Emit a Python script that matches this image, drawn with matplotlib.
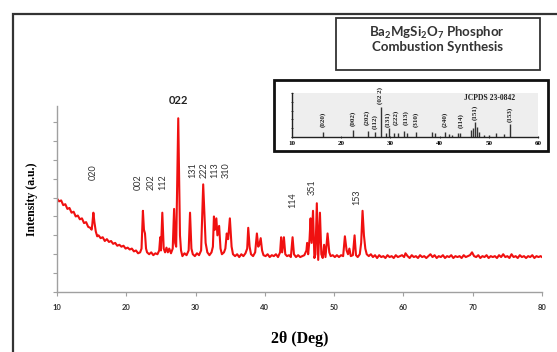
import matplotlib
matplotlib.use('Agg')
import matplotlib.pyplot as plt
from matplotlib.patches import Rectangle

plt.rcParams['mathtext.fontset'] = 'custom'
plt.rcParams['mathtext.rm'] = 'Lato:bold'
plt.rcParams['mathtext.it'] = 'Lato:bold'
plt.rcParams['mathtext.bf'] = 'Lato:bold'

# XRD trace (2theta in deg, intensity in arbitrary units)
two_theta = [
    10.0, 10.3, 10.6, 10.9, 11.2, 11.5, 11.8, 12.1, 12.4, 12.7, 13.0, 13.3, 13.6, 13.9,
    14.2, 14.5, 14.8, 15.0, 15.1, 15.25, 15.4, 15.6, 15.8, 16.0, 16.3, 16.6, 16.9, 17.2,
    17.5, 17.8, 18.1, 18.4, 18.7, 19.0, 19.3, 19.6, 19.9, 20.2, 20.5, 20.8, 21.1, 21.4,
    21.7, 22.0, 22.2, 22.4, 22.55, 22.7, 22.85, 23.0, 23.3, 23.6, 23.9, 24.2, 24.5, 24.75,
    24.9, 25.0, 25.2, 25.4, 25.6, 25.8, 26.0, 26.2, 26.45, 26.7, 26.9, 27.05, 27.2, 27.5,
    27.75, 27.9, 28.1, 28.4, 28.7, 29.0, 29.2, 29.4, 29.6, 29.9, 30.2, 30.5, 30.8, 31.1,
    31.3, 31.45, 31.7, 32.0, 32.3, 32.5, 32.65, 32.8, 33.0, 33.15, 33.4, 33.6, 33.8, 34.1,
    34.3, 34.5, 34.7, 34.95, 35.2, 35.4, 35.7, 36.0, 36.3, 36.6, 36.9, 37.2, 37.45, 37.6,
    37.8, 38.0, 38.3, 38.6, 38.85, 39.05, 39.2, 39.4, 39.6, 39.8, 40.1, 40.4, 40.7, 41.0,
    41.3, 41.6, 41.9, 42.2, 42.35, 42.5, 42.75, 42.95, 43.2, 43.5, 43.75, 44.0, 44.2, 44.5,
    44.8, 45.1, 45.4, 45.7, 46.0, 46.1, 46.25, 46.45, 46.6, 46.75, 46.95, 47.15, 47.3, 47.5,
    47.7, 47.95, 48.15, 48.35, 48.55, 48.75, 49.05, 49.3, 49.5, 49.8, 50.1, 50.4, 50.7, 51.0,
    51.3, 51.55, 51.8, 52.0, 52.2, 52.4, 52.7, 52.95, 53.15, 53.4, 53.7, 53.9, 54.1, 54.3,
    54.5, 54.7, 55.0, 55.3, 55.6, 55.9, 56.2, 56.5, 56.8, 57.1, 57.4, 57.7, 58.0, 58.3,
    58.6, 58.9, 59.2, 59.5, 59.8, 60.1, 60.3, 60.6, 60.9, 61.2, 61.5, 61.8, 62.1, 62.4,
    62.7, 63.0, 63.3, 63.6, 63.9, 64.2, 64.5, 64.8, 65.1, 65.4, 65.7, 66.0, 66.3, 66.6,
    66.9, 67.2, 67.5, 67.8, 68.1, 68.4, 68.7, 69.0, 69.3, 69.6, 69.9, 70.2, 70.5, 70.8,
    71.1, 71.4, 71.7, 72.0, 72.3, 72.6, 72.9, 73.2, 73.5, 73.8, 74.1, 74.4, 74.7, 75.0,
    75.3, 75.6, 75.9, 76.2, 76.5, 76.8, 77.1, 77.4, 77.7, 78.0, 78.3, 78.6, 78.9, 79.2,
    79.5, 79.8, 80.0,
]
intensity = [
    4.95, 4.8, 4.85, 4.6, 4.65, 4.4, 4.45, 4.2, 4.25, 4.0, 4.05, 3.85, 3.9, 3.65,
    3.7, 3.45, 3.4, 3.3, 3.6, 4.2, 3.7, 3.2, 2.95, 3.0, 2.85, 2.9, 2.7, 2.8,
    2.65, 2.7, 2.55, 2.6, 2.45, 2.5, 2.4, 2.45, 2.3, 2.35, 2.25, 2.3, 2.15, 2.2,
    2.05, 2.1, 2.3, 4.3, 3.3, 3.1, 2.3, 2.1, 2.0, 2.1, 1.95, 2.05, 2.0, 2.2,
    2.9, 2.2, 4.2, 2.3, 2.1, 2.35, 2.1, 2.3, 2.05, 2.3, 4.4, 2.6, 2.4, 9.2,
    3.0, 2.2, 1.9, 2.05, 1.95, 2.2, 4.2, 2.3, 2.0, 1.9, 2.05, 1.95, 2.2, 5.7,
    4.0, 2.6, 2.1, 1.95, 2.1, 2.4, 4.0, 3.3, 3.9, 3.0, 3.5, 2.3, 2.0, 2.1,
    2.3, 3.1, 2.8, 3.9, 2.4, 2.0, 1.9, 2.0, 1.85, 2.0, 1.9, 2.05, 2.3, 3.4,
    2.4, 2.0, 1.9, 2.1, 3.1, 2.4, 2.5, 2.85, 2.2, 1.95, 1.9, 2.0, 1.85, 1.95,
    1.9, 2.0, 1.85, 2.1, 2.9, 2.1, 2.9, 2.0, 1.9, 1.95, 1.85, 2.9, 2.0, 1.85,
    1.95, 1.85, 1.9, 1.95, 2.2, 2.6, 2.0, 2.8, 3.9, 2.6, 4.3, 1.8, 2.0, 4.7,
    1.7, 4.2, 2.0, 1.8, 2.5, 1.85, 3.1, 2.1, 1.9, 1.95, 1.85, 1.95, 1.85, 1.95,
    1.9, 2.95, 2.2, 2.0, 2.3, 1.9, 1.95, 3.0, 1.95, 1.85, 2.0, 2.6, 4.3, 3.0,
    2.3, 2.0, 1.9, 2.0, 1.85, 1.95, 1.8, 1.95, 1.85, 1.9, 1.8, 1.95, 1.85, 1.9,
    1.8, 1.95, 1.85, 1.9, 1.95, 1.85, 2.05, 1.9, 1.8, 1.95, 1.85, 1.9, 1.8, 1.95,
    1.85, 1.9, 1.8, 1.9, 2.0, 1.85, 1.95, 1.8, 1.9, 1.85, 1.95, 1.8, 1.9, 1.85,
    1.95, 1.8, 1.9, 1.85, 1.9, 1.8, 1.95, 1.85, 1.9, 1.95, 2.1, 1.9, 1.85, 1.95,
    1.8, 1.9, 1.85, 1.95, 1.8, 1.9, 1.85, 1.9, 1.8, 1.95, 1.85, 2.0, 1.85, 1.9,
    1.8, 2.0, 1.85, 1.9, 1.8, 1.95, 1.85, 1.9, 1.8, 1.9, 1.85, 1.95, 1.8, 1.9,
    1.85, 1.9, 1.85,
]

# hkl labels on the main pattern: text, 2theta, height
peak_labels = ['020', '002', '202', '112', '131', '222', '113', '310', '114', '351', '153']
label_x = [15.2, 21.7, 23.6, 25.3, 29.6, 31.2, 32.8, 34.4, 44.05, 46.8, 53.3]
label_y = [6.35, 5.8, 5.8, 5.8, 6.45, 6.45, 6.45, 6.45, 4.87, 5.55, 5.0]

# JCPDS 23-0842 reference sticks (inset)
stick_x = [16.2, 22.3, 25.4, 26.9, 28.0, 29.2, 29.8, 30.8, 31.5, 32.8, 33.3, 35.2,
           38.5, 39.0, 41.0, 42.0, 42.6, 43.7, 44.2, 46.3, 46.8, 47.2, 47.6, 48.0,
           49.0, 50.0, 51.5, 53.0, 54.3]
stick_h = [11, 17, 14, 12, 69, 8, 20, 10, 8, 14, 8, 11,
           12, 8, 11, 6, 5, 8, 10, 15, 20, 35, 22, 12,
           5, 5, 8, 6, 29]
jcpds_labels = ['(020)', '(002)', '(202)', '(112)', '(02 2)', '(131)', '(222)', '(113)',
                '(310)', '(240)', '(114)', '(151)', '(153)']
jcpds_x = [16.2, 22.3, 25.2, 26.8, 28.0, 29.5, 31.1, 33.1, 35.2, 41.0, 44.3, 47.1, 54.3]
jcpds_y = [39, 43, 45, 35, 95, 40, 45, 45, 41, 39, 37, 57, 52]

fig = plt.figure(figsize=(5.57, 3.52), dpi=100)

def fx(px):
    return px / 557.0

def fy(py):
    return 1 - py / 352.0

# outer chart frame
fig.patches.append(Rectangle((fx(13), fy(400)), 1.0, fy(14) - fy(400), transform=fig.transFigure,
                             fill=False, edgecolor='#333333', linewidth=1.6))

ax = fig.add_axes([fx(57), fy(292), fx(542) - fx(57), fy(106) - fy(292)])
ax.plot(two_theta, intensity, color='#f01010', linewidth=1.5)
ax.set_xlim(10, 80)
ax.set_ylim(0, 9.85)
ax.set_xticks(range(10, 81, 10))
ax.set_yticks(range(0, 10))
ax.set_yticklabels([])
for s in ['top', 'right']:
    ax.spines[s].set_visible(False)
for s in ['left', 'bottom']:
    ax.spines[s].set_color('#a0a0a0')
    ax.spines[s].set_linewidth(1.0)
ax.tick_params(axis='both', color='#a0a0a0', length=3, width=0.8, direction='out')
ax.tick_params(axis='x', labelsize=5.5, labelcolor='#333333', pad=6)
for lab in ax.get_xticklabels():
    lab.set_fontweight('bold')
    lab.set_family('Lato')

ax.set_xlabel('2θ (Deg)', family='Liberation Serif', fontweight='bold', fontsize=11.5, labelpad=14)
ax.set_ylabel('Intensity (a.u.)', family='Liberation Serif', fontweight='bold', fontsize=8.5, labelpad=7)

for t, x, y in zip(peak_labels, label_x, label_y):
    ax.text(x, y, t, rotation=90, ha='center', va='center', fontsize=6.5,
            family='Lato', color='#333333')
ax.text(27.5, 10.16, '022', ha='center', va='center', fontsize=8, family='Lato',
        fontweight='bold', color='#222222', clip_on=False)

# title box
fig.patches.append(Rectangle((fx(336), fy(70)), fx(540) - fx(336), fy(18) - fy(70),
                             transform=fig.transFigure, fill=False, edgecolor='#333333', linewidth=1.3))
fig.text(fx(437), fy(33), r'Ba$_2$MgSi$_2$O$_7$ Phosphor', ha='center', va='center',
         fontsize=9.5, family='Lato', fontweight='bold', color='#333333')
fig.text(fx(437), fy(47), 'Combustion Synthesis', ha='center', va='center',
         fontsize=9.5, family='Lato', fontweight='bold', color='#333333')

# inset with JCPDS card
fig.patches.append(Rectangle((fx(274), fy(151)), fx(548) - fx(274), fy(80) - fy(151),
                             transform=fig.transFigure, fill=True, facecolor='white',
                             edgecolor='#111111', linewidth=2.0, zorder=3))
ins = fig.add_axes([fx(292), fy(137), fx(538) - fx(292), fy(93) - fy(137)], zorder=4)
ins.set_facecolor('#eeeeee')
ins.vlines(stick_x, 0, stick_h, color='#333333', linewidth=1.0)
ins.set_xlim(10, 60)
ins.set_ylim(0, 100)
ins.set_xticks(range(10, 61, 10))
ins.set_yticks(range(0, 101, 20))
ins.set_yticklabels([])
for s in ['top', 'right']:
    ins.spines[s].set_visible(False)
for s in ['left', 'bottom']:
    ins.spines[s].set_color('#222222')
    ins.spines[s].set_linewidth(1.0)
ins.tick_params(axis='both', length=2, width=0.6, color='#222222', direction='inout')
ins.tick_params(axis='x', labelsize=5, pad=2)
for lab in ins.get_xticklabels():
    lab.set_fontweight('bold')
    lab.set_family('Liberation Serif')
for t, x, y in zip(jcpds_labels, jcpds_x, jcpds_y):
    ins.text(x, y, t, rotation=90, ha='center', va='center', fontsize=5,
             family='Liberation Serif', fontweight='bold', color='#222222', clip_on=False)
ins.text(50.2, 89, 'JCPDS 23-0842', ha='center', va='center', fontsize=5.5,
         family='Liberation Serif', fontweight='bold', color='#222222')

fig.savefig('out.png', dpi=100)
